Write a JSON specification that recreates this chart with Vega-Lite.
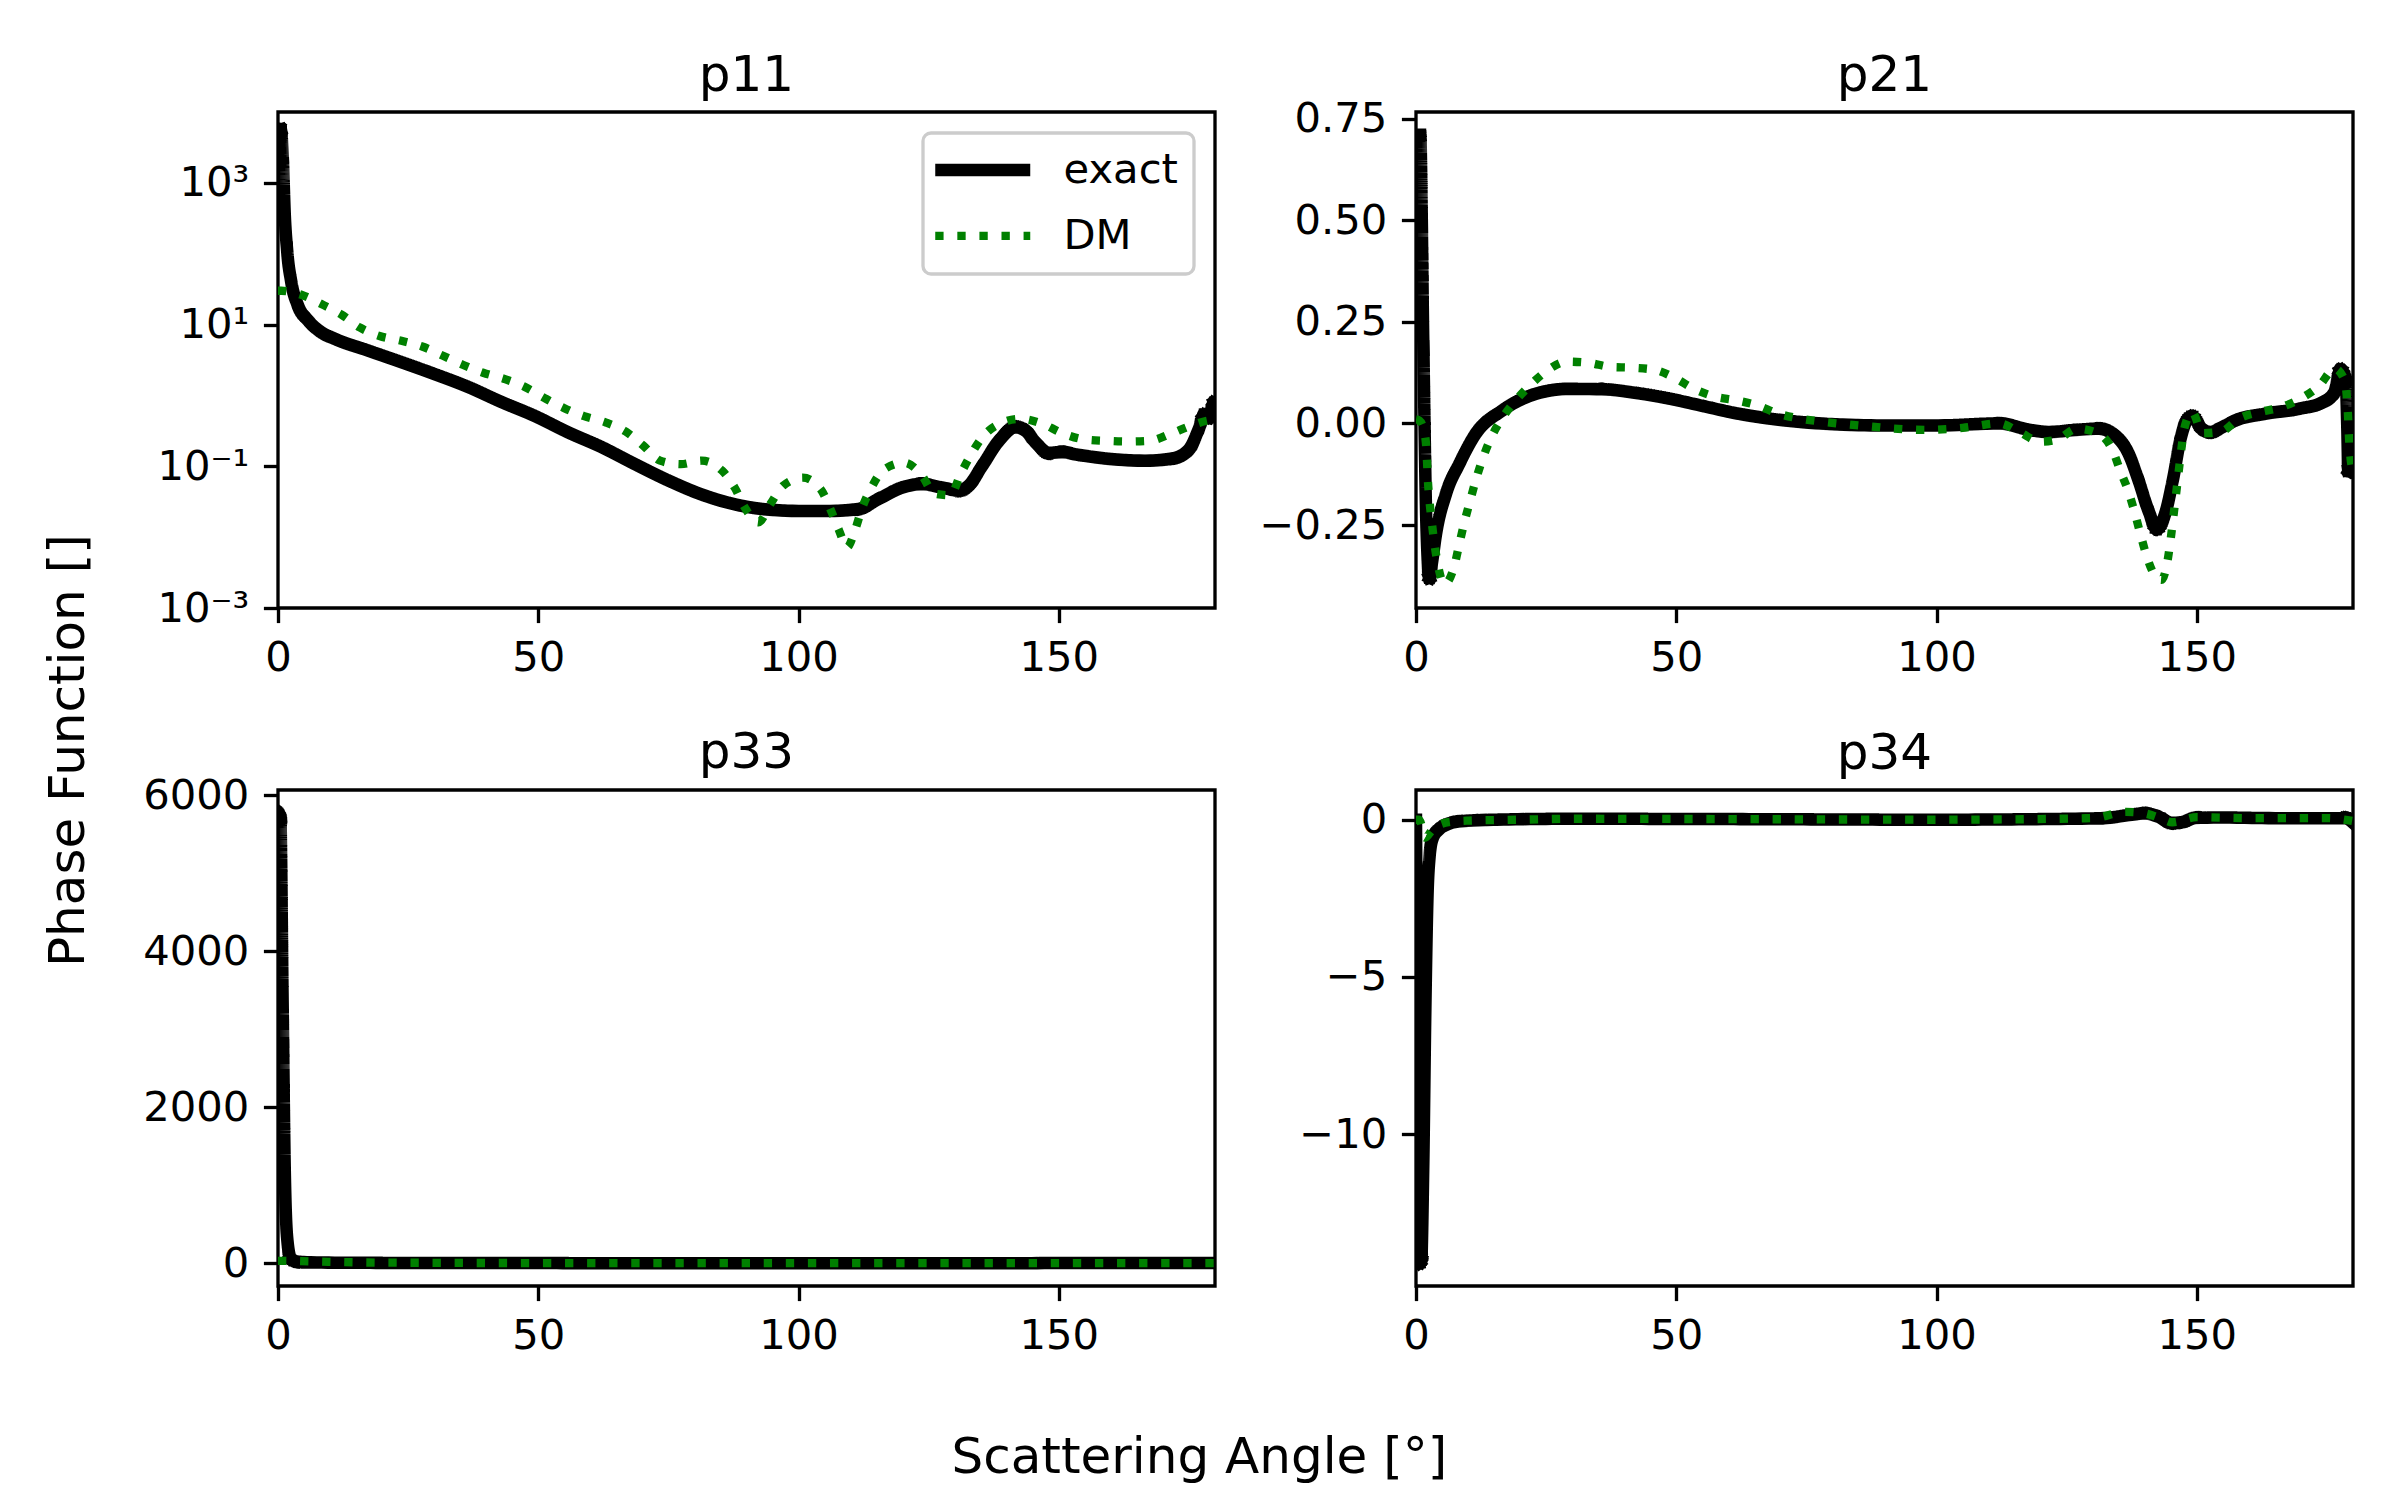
{
  "$schema": "https://vega.github.io/schema/vega-lite/v6.json",
  "background": "white",
  "padding": {"left": 44, "top": 48, "right": 0, "bottom": 0},
  "config": {
    "font": "DejaVu Sans",
    "view": {"stroke": "#000000", "strokeWidth": 3.33},
    "axis": {"domain": false, "grid": false, "tickColor": "#000000", "tickWidth": 3.33, "tickSize": 14.6, "labelFontSize": 41.7, "labelColor": "#000000", "labelFont": "DejaVu Sans", "labelPadding": 14.6, "labelFlush": false, "labelOverlap": false},
    "title": {"fontSize": 50, "fontWeight": "normal", "color": "#000000", "font": "DejaVu Sans", "offset": 25, "baseline": "alphabetic"},
    "legend": {"labelFontSize": 41.7, "labelColor": "#000000", "labelFont": "DejaVu Sans"}
  },
  "data": {"values": [
    {"panel":"p11","series":"exact","angle":0,"value":5800},{"panel":"p11","series":"exact","angle":0.45,"value":5750},{"panel":"p11","series":"exact","angle":0.96,"value":1950},{"panel":"p11","series":"exact","angle":1.28,"value":390},{"panel":"p11","series":"exact","angle":1.79,"value":105},{"panel":"p11","series":"exact","angle":2.56,"value":40},{"panel":"p11","series":"exact","angle":3.85,"value":18.6},{"panel":"p11","series":"exact","angle":5.77,"value":11.5},{"panel":"p11","series":"exact","angle":8.33,"value":7.8},{"panel":"p11","series":"exact","angle":10.9,"value":6.3},{"panel":"p11","series":"exact","angle":17.3,"value":4.3},{"panel":"p11","series":"exact","angle":23.7,"value":2.95},{"panel":"p11","series":"exact","angle":30.1,"value":2.0},{"panel":"p11","series":"exact","angle":36.5,"value":1.32},{"panel":"p11","series":"exact","angle":42.9,"value":0.81},{"panel":"p11","series":"exact","angle":49.4,"value":0.51},{"panel":"p11","series":"exact","angle":55.8,"value":0.30},{"panel":"p11","series":"exact","angle":62.2,"value":0.186},{"panel":"p11","series":"exact","angle":68.6,"value":0.107},{"panel":"p11","series":"exact","angle":75.0,"value":0.063},{"panel":"p11","series":"exact","angle":81.4,"value":0.040},{"panel":"p11","series":"exact","angle":87.8,"value":0.029},{"panel":"p11","series":"exact","angle":94.2,"value":0.0245},{"panel":"p11","series":"exact","angle":100.7,"value":0.0234},{"panel":"p11","series":"exact","angle":105.8,"value":0.0234},{"panel":"p11","series":"exact","angle":111.5,"value":0.025},{"panel":"p11","series":"exact","angle":115.4,"value":0.0347},{"panel":"p11","series":"exact","angle":119.9,"value":0.050},{"panel":"p11","series":"exact","angle":123.7,"value":0.056},{"panel":"p11","series":"exact","angle":127.6,"value":0.050},{"panel":"p11","series":"exact","angle":130.8,"value":0.0457},{"panel":"p11","series":"exact","angle":132.7,"value":0.0537},{"panel":"p11","series":"exact","angle":135.3,"value":0.102},{"panel":"p11","series":"exact","angle":138.5,"value":0.229},{"panel":"p11","series":"exact","angle":141.7,"value":0.355},{"panel":"p11","series":"exact","angle":143.6,"value":0.316},{"panel":"p11","series":"exact","angle":145.5,"value":0.219},{"panel":"p11","series":"exact","angle":148.1,"value":0.155},{"panel":"p11","series":"exact","angle":150.6,"value":0.158},{"panel":"p11","series":"exact","angle":153.8,"value":0.145},{"panel":"p11","series":"exact","angle":160.3,"value":0.126},{"panel":"p11","series":"exact","angle":166.7,"value":0.120},{"panel":"p11","series":"exact","angle":171.8,"value":0.129},{"panel":"p11","series":"exact","angle":175.0,"value":0.174},{"panel":"p11","series":"exact","angle":176.9,"value":0.339},{"panel":"p11","series":"exact","angle":177.9,"value":0.525},{"panel":"p11","series":"exact","angle":178.8,"value":0.49},{"panel":"p11","series":"exact","angle":179.8,"value":0.79},{"panel":"p11","series":"exact","angle":180,"value":0.8},
    {"panel":"p11","series":"DM","angle":0,"value":30},{"panel":"p11","series":"DM","angle":0.64,"value":30},{"panel":"p11","series":"DM","angle":4.49,"value":26.3},{"panel":"p11","series":"DM","angle":8.33,"value":19.5},{"panel":"p11","series":"DM","angle":12.2,"value":13.8},{"panel":"p11","series":"DM","angle":15.7,"value":9.1},{"panel":"p11","series":"DM","angle":19.5,"value":6.9},{"panel":"p11","series":"DM","angle":23.7,"value":5.9},{"panel":"p11","series":"DM","angle":27.7,"value":4.9},{"panel":"p11","series":"DM","angle":31.7,"value":3.63},{"panel":"p11","series":"DM","angle":35.6,"value":2.69},{"panel":"p11","series":"DM","angle":39.4,"value":2.09},{"panel":"p11","series":"DM","angle":43.6,"value":1.70},{"panel":"p11","series":"DM","angle":47.4,"value":1.32},{"panel":"p11","series":"DM","angle":51.3,"value":0.91},{"panel":"p11","series":"DM","angle":55.0,"value":0.66},{"panel":"p11","series":"DM","angle":58.8,"value":0.51},{"panel":"p11","series":"DM","angle":62.9,"value":0.417},{"panel":"p11","series":"DM","angle":66.8,"value":0.309},{"panel":"p11","series":"DM","angle":70.2,"value":0.195},{"panel":"p11","series":"DM","angle":73.4,"value":0.120},{"panel":"p11","series":"DM","angle":77.4,"value":0.107},{"panel":"p11","series":"DM","angle":81.4,"value":0.120},{"panel":"p11","series":"DM","angle":85.3,"value":0.087},{"panel":"p11","series":"DM","angle":87.8,"value":0.049},{"panel":"p11","series":"DM","angle":89.7,"value":0.026},{"panel":"p11","series":"DM","angle":92.3,"value":0.0162},{"panel":"p11","series":"DM","angle":94.6,"value":0.0295},{"panel":"p11","series":"DM","angle":97.1,"value":0.0537},{"panel":"p11","series":"DM","angle":100.8,"value":0.069},{"panel":"p11","series":"DM","angle":104.2,"value":0.048},{"panel":"p11","series":"DM","angle":106.1,"value":0.025},{"panel":"p11","series":"DM","angle":107.7,"value":0.0129},{"panel":"p11","series":"DM","angle":109.3,"value":0.0072},{"panel":"p11","series":"DM","angle":110.9,"value":0.0129},{"panel":"p11","series":"DM","angle":112.2,"value":0.0257},{"panel":"p11","series":"DM","angle":114.0,"value":0.050},{"panel":"p11","series":"DM","angle":116.3,"value":0.089},{"panel":"p11","series":"DM","angle":120.3,"value":0.112},{"panel":"p11","series":"DM","angle":123.7,"value":0.074},{"panel":"p11","series":"DM","angle":126.1,"value":0.041},{"panel":"p11","series":"DM","angle":129.2,"value":0.039},{"panel":"p11","series":"DM","angle":131.0,"value":0.074},{"panel":"p11","series":"DM","angle":133.0,"value":0.141},{"panel":"p11","series":"DM","angle":135.3,"value":0.257},{"panel":"p11","series":"DM","angle":138.6,"value":0.398},{"panel":"p11","series":"DM","angle":142.6,"value":0.468},{"panel":"p11","series":"DM","angle":146.8,"value":0.398},{"panel":"p11","series":"DM","angle":150.6,"value":0.295},{"panel":"p11","series":"DM","angle":154.8,"value":0.240},{"panel":"p11","series":"DM","angle":159.0,"value":0.229},{"panel":"p11","series":"DM","angle":163.1,"value":0.224},{"panel":"p11","series":"DM","angle":167.4,"value":0.229},{"panel":"p11","series":"DM","angle":171.5,"value":0.288},{"panel":"p11","series":"DM","angle":175.3,"value":0.372},{"panel":"p11","series":"DM","angle":179.2,"value":0.447},{"panel":"p11","series":"DM","angle":180,"value":0.45},
    {"panel":"p21","series":"exact","angle":0,"value":0.71},{"panel":"p21","series":"exact","angle":0.8,"value":0.71},{"panel":"p21","series":"exact","angle":1.4,"value":0.2},{"panel":"p21","series":"exact","angle":2.0,"value":-0.25},{"panel":"p21","series":"exact","angle":2.6,"value":-0.38},{"panel":"p21","series":"exact","angle":3.1,"value":-0.34},{"panel":"p21","series":"exact","angle":3.85,"value":-0.272},{"panel":"p21","series":"exact","angle":5.77,"value":-0.173},{"panel":"p21","series":"exact","angle":8.33,"value":-0.099},{"panel":"p21","series":"exact","angle":11.5,"value":-0.025},{"panel":"p21","series":"exact","angle":16.6,"value":0.032},{"panel":"p21","series":"exact","angle":23.1,"value":0.073},{"panel":"p21","series":"exact","angle":29.5,"value":0.085},{"panel":"p21","series":"exact","angle":35.9,"value":0.084},{"panel":"p21","series":"exact","angle":42.3,"value":0.075},{"panel":"p21","series":"exact","angle":48.7,"value":0.061},{"panel":"p21","series":"exact","angle":55.1,"value":0.043},{"panel":"p21","series":"exact","angle":61.5,"value":0.025},{"panel":"p21","series":"exact","angle":67.9,"value":0.012},{"panel":"p21","series":"exact","angle":77.6,"value":0.0},{"panel":"p21","series":"exact","angle":90,"value":-0.005},{"panel":"p21","series":"exact","angle":100,"value":-0.005},{"panel":"p21","series":"exact","angle":112,"value":0.0},{"panel":"p21","series":"exact","angle":118,"value":-0.016},{"panel":"p21","series":"exact","angle":121.5,"value":-0.021},{"panel":"p21","series":"exact","angle":126.6,"value":-0.016},{"panel":"p21","series":"exact","angle":131.1,"value":-0.013},{"panel":"p21","series":"exact","angle":134.3,"value":-0.030},{"panel":"p21","series":"exact","angle":136.9,"value":-0.075},{"panel":"p21","series":"exact","angle":138.8,"value":-0.140},{"panel":"p21","series":"exact","angle":140.7,"value":-0.214},{"panel":"p21","series":"exact","angle":142.3,"value":-0.258},{"panel":"p21","series":"exact","angle":143.9,"value":-0.222},{"panel":"p21","series":"exact","angle":145.5,"value":-0.132},{"panel":"p21","series":"exact","angle":146.8,"value":-0.042},{"panel":"p21","series":"exact","angle":148.1,"value":0.007},{"panel":"p21","series":"exact","angle":149.1,"value":0.016},{"panel":"p21","series":"exact","angle":151.0,"value":-0.013},{"panel":"p21","series":"exact","angle":152.6,"value":-0.021},{"panel":"p21","series":"exact","angle":154.9,"value":-0.009},{"panel":"p21","series":"exact","angle":157.4,"value":0.007},{"panel":"p21","series":"exact","angle":163.2,"value":0.024},{"panel":"p21","series":"exact","angle":169.6,"value":0.036},{"panel":"p21","series":"exact","angle":174.1,"value":0.052},{"panel":"p21","series":"exact","angle":176.4,"value":0.077},{"panel":"p21","series":"exact","angle":177.6,"value":0.131},{"panel":"p21","series":"exact","angle":178.6,"value":0.106},{"panel":"p21","series":"exact","angle":178.9,"value":-0.009},{"panel":"p21","series":"exact","angle":179.1,"value":-0.116},{"panel":"p21","series":"exact","angle":180,"value":-0.12},
    {"panel":"p21","series":"DM","angle":0,"value":0.01},{"panel":"p21","series":"DM","angle":0.64,"value":0.007},{"panel":"p21","series":"DM","angle":1.6,"value":-0.021},{"panel":"p21","series":"DM","angle":2.05,"value":-0.075},{"panel":"p21","series":"DM","angle":2.24,"value":-0.13},{"panel":"p21","series":"DM","angle":2.56,"value":-0.186},{"panel":"p21","series":"DM","angle":3.0,"value":-0.239},{"panel":"p21","series":"DM","angle":3.5,"value":-0.292},{"panel":"p21","series":"DM","angle":4.17,"value":-0.345},{"panel":"p21","series":"DM","angle":5.45,"value":-0.395},{"panel":"p21","series":"DM","angle":7.37,"value":-0.35},{"panel":"p21","series":"DM","angle":8.33,"value":-0.296},{"panel":"p21","series":"DM","angle":9.3,"value":-0.243},{"panel":"p21","series":"DM","angle":10.4,"value":-0.19},{"panel":"p21","series":"DM","angle":11.5,"value":-0.139},{"panel":"p21","series":"DM","angle":12.8,"value":-0.087},{"panel":"p21","series":"DM","angle":14.4,"value":-0.036},{"panel":"p21","series":"DM","angle":16.5,"value":0.012},{"panel":"p21","series":"DM","angle":19.0,"value":0.054},{"panel":"p21","series":"DM","angle":22.0,"value":0.095},{"panel":"p21","series":"DM","angle":25.1,"value":0.129},{"panel":"p21","series":"DM","angle":29.0,"value":0.152},{"panel":"p21","series":"DM","angle":33.2,"value":0.149},{"panel":"p21","series":"DM","angle":37.3,"value":0.139},{"panel":"p21","series":"DM","angle":41.5,"value":0.137},{"panel":"p21","series":"DM","angle":45.8,"value":0.132},{"panel":"p21","series":"DM","angle":49.7,"value":0.112},{"panel":"p21","series":"DM","angle":53.4,"value":0.085},{"panel":"p21","series":"DM","angle":57.4,"value":0.066},{"panel":"p21","series":"DM","angle":61.5,"value":0.057},{"panel":"p21","series":"DM","angle":65.6,"value":0.044},{"panel":"p21","series":"DM","angle":69.6,"value":0.024},{"panel":"p21","series":"DM","angle":73.7,"value":0.012},{"panel":"p21","series":"DM","angle":77.6,"value":0.005},{"panel":"p21","series":"DM","angle":85,"value":-0.005},{"panel":"p21","series":"DM","angle":98,"value":-0.016},{"panel":"p21","series":"DM","angle":105,"value":-0.011},{"panel":"p21","series":"DM","angle":112,"value":0.0},{"panel":"p21","series":"DM","angle":116,"value":-0.022},{"panel":"p21","series":"DM","angle":120,"value":-0.045},{"panel":"p21","series":"DM","angle":123.1,"value":-0.040},{"panel":"p21","series":"DM","angle":127.0,"value":-0.013},{"panel":"p21","series":"DM","angle":131.1,"value":-0.025},{"panel":"p21","series":"DM","angle":133.8,"value":-0.066},{"panel":"p21","series":"DM","angle":135.4,"value":-0.120},{"panel":"p21","series":"DM","angle":136.9,"value":-0.169},{"panel":"p21","series":"DM","angle":138.1,"value":-0.221},{"panel":"p21","series":"DM","angle":139.2,"value":-0.274},{"panel":"p21","series":"DM","angle":140.4,"value":-0.328},{"panel":"p21","series":"DM","angle":142.1,"value":-0.377},{"panel":"p21","series":"DM","angle":143.2,"value":-0.385},{"panel":"p21","series":"DM","angle":144.4,"value":-0.336},{"panel":"p21","series":"DM","angle":145.0,"value":-0.282},{"panel":"p21","series":"DM","angle":145.5,"value":-0.229},{"panel":"p21","series":"DM","angle":146.0,"value":-0.175},{"panel":"p21","series":"DM","angle":146.5,"value":-0.120},{"panel":"p21","series":"DM","angle":147.0,"value":-0.066},{"panel":"p21","series":"DM","angle":147.6,"value":-0.012},{"panel":"p21","series":"DM","angle":149.1,"value":0.028},{"panel":"p21","series":"DM","angle":151.1,"value":-0.024},{"panel":"p21","series":"DM","angle":154.7,"value":-0.020},{"panel":"p21","series":"DM","angle":158.1,"value":0.012},{"panel":"p21","series":"DM","angle":162.0,"value":0.028},{"panel":"p21","series":"DM","angle":166.2,"value":0.040},{"panel":"p21","series":"DM","angle":170.2,"value":0.063},{"panel":"p21","series":"DM","angle":173.6,"value":0.094},{"panel":"p21","series":"DM","angle":176.5,"value":0.135},{"panel":"p21","series":"DM","angle":178.4,"value":0.106},{"panel":"p21","series":"DM","angle":179.0,"value":0.03},{"panel":"p21","series":"DM","angle":179.3,"value":-0.05},{"panel":"p21","series":"DM","angle":180,"value":-0.12},
    {"panel":"p33","series":"exact","angle":0,"value":5775},{"panel":"p33","series":"exact","angle":0.45,"value":5700},{"panel":"p33","series":"exact","angle":0.9,"value":3300},{"panel":"p33","series":"exact","angle":1.3,"value":1200},{"panel":"p33","series":"exact","angle":1.8,"value":300},{"panel":"p33","series":"exact","angle":2.5,"value":60},{"panel":"p33","series":"exact","angle":3.8,"value":20},{"panel":"p33","series":"exact","angle":5.8,"value":11},{"panel":"p33","series":"exact","angle":8.3,"value":8},{"panel":"p33","series":"exact","angle":11,"value":6},{"panel":"p33","series":"exact","angle":17,"value":4},{"panel":"p33","series":"exact","angle":24,"value":3},{"panel":"p33","series":"exact","angle":30,"value":2},{"panel":"p33","series":"exact","angle":50,"value":0.5},{"panel":"p33","series":"exact","angle":100,"value":0.02},{"panel":"p33","series":"exact","angle":140,"value":0.35},{"panel":"p33","series":"exact","angle":180,"value":0.8},
    {"panel":"p33","series":"DM","angle":0,"value":30},{"panel":"p33","series":"DM","angle":0.64,"value":30},{"panel":"p33","series":"DM","angle":4.5,"value":26},{"panel":"p33","series":"DM","angle":8.3,"value":19.5},{"panel":"p33","series":"DM","angle":12.2,"value":13.8},{"panel":"p33","series":"DM","angle":19.5,"value":6.9},{"panel":"p33","series":"DM","angle":27.7,"value":4.9},{"panel":"p33","series":"DM","angle":35.6,"value":2.7},{"panel":"p33","series":"DM","angle":47.4,"value":1.3},{"panel":"p33","series":"DM","angle":62.9,"value":0.4},{"panel":"p33","series":"DM","angle":80,"value":0.1},{"panel":"p33","series":"DM","angle":120,"value":0.1},{"panel":"p33","series":"DM","angle":142,"value":0.47},{"panel":"p33","series":"DM","angle":160,"value":0.23},{"panel":"p33","series":"DM","angle":180,"value":0.45},
    {"panel":"p34","series":"exact","angle":0,"value":0},{"panel":"p34","series":"exact","angle":0.3,"value":-8},{"panel":"p34","series":"exact","angle":0.6,"value":-14.1},{"panel":"p34","series":"exact","angle":1.0,"value":-14.0},{"panel":"p34","series":"exact","angle":1.4,"value":-11},{"panel":"p34","series":"exact","angle":1.8,"value":-6},{"panel":"p34","series":"exact","angle":2.2,"value":-2.5},{"panel":"p34","series":"exact","angle":2.6,"value":-1.2},{"panel":"p34","series":"exact","angle":3.2,"value":-0.6},{"panel":"p34","series":"exact","angle":4.5,"value":-0.3},{"panel":"p34","series":"exact","angle":6,"value":-0.15},{"panel":"p34","series":"exact","angle":8.5,"value":-0.05},{"panel":"p34","series":"exact","angle":15,"value":0.0},{"panel":"p34","series":"exact","angle":30,"value":0.03},{"panel":"p34","series":"exact","angle":60,"value":0.02},{"panel":"p34","series":"exact","angle":100,"value":0.0},{"panel":"p34","series":"exact","angle":120,"value":0.02},{"panel":"p34","series":"exact","angle":132,"value":0.05},{"panel":"p34","series":"exact","angle":137,"value":0.15},{"panel":"p34","series":"exact","angle":140,"value":0.2},{"panel":"p34","series":"exact","angle":142.5,"value":0.1},{"panel":"p34","series":"exact","angle":145.3,"value":-0.1},{"panel":"p34","series":"exact","angle":147,"value":-0.08},{"panel":"p34","series":"exact","angle":150,"value":0.06},{"panel":"p34","series":"exact","angle":155,"value":0.07},{"panel":"p34","series":"exact","angle":165,"value":0.05},{"panel":"p34","series":"exact","angle":175,"value":0.05},{"panel":"p34","series":"exact","angle":178.5,"value":0.05},{"panel":"p34","series":"exact","angle":180,"value":-0.1},
    {"panel":"p34","series":"DM","angle":0,"value":0.0},{"panel":"p34","series":"DM","angle":0.6,"value":0.0},{"panel":"p34","series":"DM","angle":1.8,"value":-0.57},{"panel":"p34","series":"DM","angle":3,"value":-0.35},{"panel":"p34","series":"DM","angle":4.5,"value":-0.16},{"panel":"p34","series":"DM","angle":7,"value":-0.06},{"panel":"p34","series":"DM","angle":10,"value":-0.03},{"panel":"p34","series":"DM","angle":20,"value":0.0},{"panel":"p34","series":"DM","angle":30,"value":0.03},{"panel":"p34","series":"DM","angle":60,"value":0.02},{"panel":"p34","series":"DM","angle":100,"value":0.0},{"panel":"p34","series":"DM","angle":130,"value":0.05},{"panel":"p34","series":"DM","angle":136.4,"value":0.25},{"panel":"p34","series":"DM","angle":140,"value":0.2},{"panel":"p34","series":"DM","angle":143,"value":0.05},{"panel":"p34","series":"DM","angle":145.3,"value":-0.08},{"panel":"p34","series":"DM","angle":150,"value":0.08},{"panel":"p34","series":"DM","angle":160,"value":0.05},{"panel":"p34","series":"DM","angle":175,"value":0.05},{"panel":"p34","series":"DM","angle":180,"value":-0.04}
  ]},
  "title": {"text": "Scattering Angle [°]", "orient": "bottom", "anchor": "middle", "fontSize": 50, "offset": 114, "baseline": "alphabetic"},
  "resolve": {"scale": {"x": "independent", "y": "independent", "color": "independent", "strokeDash": "independent", "strokeWidth": "independent"}},
  "vconcat": [{
    "title": {"text": "Phase Function []", "orient": "left", "anchor": "middle", "fontSize": 50, "offset": 7, "baseline": "alphabetic", "dx": -47},
    "columns": 2,
    "bounds": "flush",
    "spacing": {"row": 182, "column": 201},
    "resolve": {"scale": {"x": "independent", "y": "independent", "color": "independent", "strokeDash": "independent", "strokeWidth": "independent"}},
    "concat": [
      {
        "title": {"text": "p11", "offset": 11.5}, "width": 937, "height": 496,
        "transform": [{"filter": "datum.panel === 'p11'"}],
        "encoding": {
          "x": {"field": "angle", "type": "quantitative", "scale": {"domain": [0, 180], "nice": false, "zero": false}, "axis": {"values": [0, 50, 100, 150], "title": null}},
          "y": {"field": "value", "type": "quantitative", "scale": {"type": "log", "domain": [0.001, 10000], "nice": false}, "axis": {"values": [0.001, 0.1, 10, 1000], "title": null, "labelExpr": "datum.value >= 999 ? '10³' : datum.value >= 9 ? '10¹' : datum.value >= 0.09 ? '10⁻¹' : '10⁻³'"}},
          "color": {"field": "series", "type": "nominal", "scale": {"domain": ["exact", "DM"], "range": ["#000000", "#008000"]}, "legend": {"title": null, "orient": "top-right", "offset": 21, "padding": 16, "strokeColor": "#cccccc", "cornerRadius": 8, "fillColor": "rgba(255,255,255,0.8)", "symbolType": "M-1.707,0H4.845", "symbolSize": 841, "labelOffset": 82.5, "rowPadding": 20, "labelFontSize": 41.7, "encode": {"legend": {"update": {"strokeWidth": {"value": 3.33}}}}}},
          "strokeDash": {"field": "series", "type": "nominal", "scale": {"domain": ["exact", "DM"], "range": [[1, 0], [8.33, 13.75]]}, "legend": {"title": null, "orient": "top-right", "offset": 21, "padding": 16, "strokeColor": "#cccccc", "cornerRadius": 8, "fillColor": "rgba(255,255,255,0.8)", "symbolType": "M-1.707,0H4.845", "symbolSize": 841, "labelOffset": 82.5, "rowPadding": 20, "labelFontSize": 41.7, "encode": {"legend": {"update": {"strokeWidth": {"value": 3.33}}}}}},
          "strokeWidth": {"field": "series", "type": "nominal", "scale": {"type": "point", "domain": ["exact", "DM"], "range": [12.5, 8.33]}, "legend": {"title": null, "orient": "top-right", "offset": 21, "padding": 16, "strokeColor": "#cccccc", "cornerRadius": 8, "fillColor": "rgba(255,255,255,0.8)", "symbolType": "M-1.707,0H4.845", "symbolSize": 841, "labelOffset": 82.5, "rowPadding": 20, "labelFontSize": 41.7, "encode": {"legend": {"update": {"strokeWidth": {"value": 3.33}}}}}}
        },
        "layer": [
          {"transform": [{"filter": "datum.series === 'exact'"}], "mark": {"type": "line", "clip": true, "interpolate": "monotone", "strokeCap": "square", "strokeJoin": "round"}},
          {"transform": [{"filter": "datum.series === 'DM'"}], "mark": {"type": "line", "clip": true, "interpolate": "monotone", "strokeCap": "butt"}}
        ]
      },
      {
        "title": {"text": "p21", "offset": -2}, "width": 937, "height": 496,
        "transform": [{"filter": "datum.panel === 'p21'"}],
        "encoding": {
          "x": {"field": "angle", "type": "quantitative", "scale": {"domain": [0, 180], "nice": false, "zero": false}, "axis": {"values": [0, 50, 100, 150], "title": null}},
          "y": {"field": "value", "type": "quantitative", "scale": {"domain": [-0.454, 0.766], "nice": false, "zero": false}, "axis": {"values": [-0.25, 0, 0.25, 0.5, 0.75], "format": ".2f", "title": null}},
          "color": {"field": "series", "type": "nominal", "scale": {"domain": ["exact", "DM"], "range": ["#000000", "#008000"]}, "legend": null},
          "strokeDash": {"field": "series", "type": "nominal", "scale": {"domain": ["exact", "DM"], "range": [[1, 0], [8.33, 13.75]]}, "legend": null},
          "strokeWidth": {"field": "series", "type": "nominal", "scale": {"type": "point", "domain": ["exact", "DM"], "range": [12.5, 8.33]}, "legend": null}
        },
        "layer": [
          {"transform": [{"filter": "datum.series === 'exact'"}], "mark": {"type": "line", "clip": true, "interpolate": "monotone", "strokeCap": "square", "strokeJoin": "round"}},
          {"transform": [{"filter": "datum.series === 'DM'"}], "mark": {"type": "line", "clip": true, "interpolate": "monotone", "strokeCap": "butt"}}
        ]
      },
      {
        "title": {"text": "p33", "offset": -3}, "width": 937, "height": 496,
        "transform": [{"filter": "datum.panel === 'p33'"}],
        "encoding": {
          "x": {"field": "angle", "type": "quantitative", "scale": {"domain": [0, 180], "nice": false, "zero": false}, "axis": {"values": [0, 50, 100, 150], "title": null}},
          "y": {"field": "value", "type": "quantitative", "scale": {"domain": [-293, 6069], "nice": false, "zero": false}, "axis": {"values": [0, 2000, 4000, 6000], "format": "d", "title": null}},
          "color": {"field": "series", "type": "nominal", "scale": {"domain": ["exact", "DM"], "range": ["#000000", "#008000"]}, "legend": null},
          "strokeDash": {"field": "series", "type": "nominal", "scale": {"domain": ["exact", "DM"], "range": [[1, 0], [8.33, 13.75]]}, "legend": null},
          "strokeWidth": {"field": "series", "type": "nominal", "scale": {"type": "point", "domain": ["exact", "DM"], "range": [12.5, 8.33]}, "legend": null}
        },
        "layer": [
          {"transform": [{"filter": "datum.series === 'exact'"}], "mark": {"type": "line", "clip": true, "interpolate": "monotone", "strokeCap": "square", "strokeJoin": "round"}},
          {"transform": [{"filter": "datum.series === 'DM'"}], "mark": {"type": "line", "clip": true, "interpolate": "monotone", "strokeCap": "butt"}}
        ]
      },
      {
        "title": {"text": "p34", "offset": 11.5}, "width": 937, "height": 496,
        "transform": [{"filter": "datum.panel === 'p34'"}],
        "encoding": {
          "x": {"field": "angle", "type": "quantitative", "scale": {"domain": [0, 180], "nice": false, "zero": false}, "axis": {"values": [0, 50, 100, 150], "title": null}},
          "y": {"field": "value", "type": "quantitative", "scale": {"domain": [-14.83, 0.945], "nice": false, "zero": false}, "axis": {"values": [-10, -5, 0], "format": "d", "title": null}},
          "color": {"field": "series", "type": "nominal", "scale": {"domain": ["exact", "DM"], "range": ["#000000", "#008000"]}, "legend": null},
          "strokeDash": {"field": "series", "type": "nominal", "scale": {"domain": ["exact", "DM"], "range": [[1, 0], [8.33, 13.75]]}, "legend": null},
          "strokeWidth": {"field": "series", "type": "nominal", "scale": {"type": "point", "domain": ["exact", "DM"], "range": [12.5, 8.33]}, "legend": null}
        },
        "layer": [
          {"transform": [{"filter": "datum.series === 'exact'"}], "mark": {"type": "line", "clip": true, "interpolate": "monotone", "strokeCap": "square", "strokeJoin": "round"}},
          {"transform": [{"filter": "datum.series === 'DM'"}], "mark": {"type": "line", "clip": true, "interpolate": "monotone", "strokeCap": "butt"}}
        ]
      }
    ]
  }]
}
